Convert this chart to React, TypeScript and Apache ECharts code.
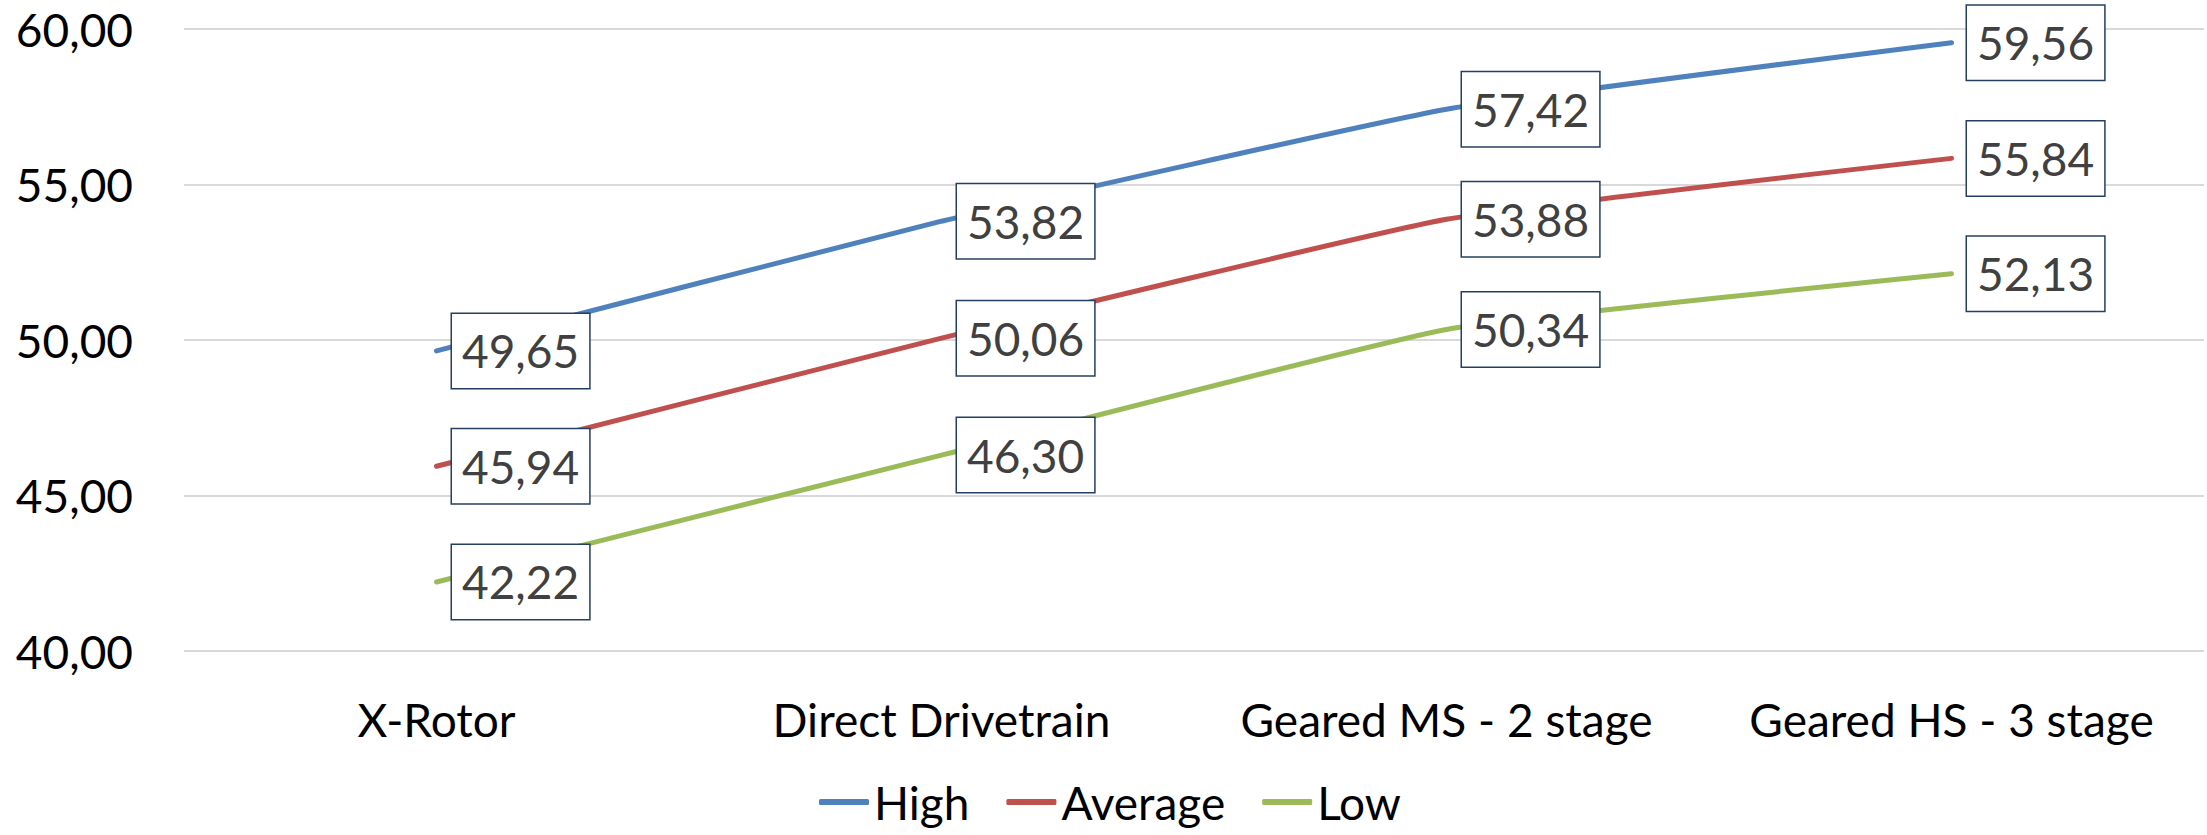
import React, { useEffect, useRef } from "react";
import * as echarts from "echarts";

// Drivetrain concepts on the category axis
const categories = ["X-Rotor", "Direct Drivetrain", "Geared MS - 2 stage", "Geared HS - 3 stage"];

// Scenario values per drivetrain concept
const highValues = [49.65, 53.82, 57.42, 59.56];
const averageValues = [45.94, 50.06, 53.88, 55.84];
const lowValues = [42.22, 46.3, 50.34, 52.13];

const seriesNames = ["High", "Average", "Low"];
const seriesColors = ["#4f81bd", "#c0504d", "#9bbb59"];

// Value axis range
const yMin = 40;
const yMax = 60;
const yStep = 5;

const FONT = "Lato, 'Noto Sans', sans-serif";

// Decimal comma with two decimals, e.g. 49,65
const fmt = (v: number) => v.toFixed(2).replace(".", ",");

export default function App() {
  const ref = useRef<HTMLDivElement>(null);

  useEffect(() => {
    if (!ref.current) return;
    const chart = echarts.init(ref.current, undefined, { renderer: "svg" });

    const allValues = [highValues, averageValues, lowValues];

    chart.setOption({
      animation: false,
      backgroundColor: "#ffffff",
      grid: { left: 184, right: 3, top: 29, bottom: 184, containLabel: false },
      legend: {
        data: seriesNames,
        left: 814,
        top: 772,
        icon: "roundRect",
        itemWidth: 50,
        itemHeight: 6,
        itemGap: 37,
        textStyle: { fontFamily: FONT, fontSize: 46, color: "#000000", lineHeight: 50 },
      },
      xAxis: {
        type: "category",
        data: categories,
        boundaryGap: true,
        axisLine: { show: false },
        axisTick: { show: false },
        axisLabel: {
          fontFamily: FONT,
          fontSize: 46,
          color: "#000000",
          margin: 45,
          interval: 0,
        },
      },
      yAxis: {
        type: "value",
        min: yMin,
        max: yMax,
        interval: yStep,
        axisLine: { show: false },
        axisTick: { show: false },
        axisLabel: {
          fontFamily: FONT,
          fontSize: 46,
          color: "#000000",
          margin: 51,
          formatter: (v: number) => fmt(v),
        },
        splitLine: { lineStyle: { color: "#d9d9d9", width: 2 } },
      },
      series: seriesNames.map((name, i) => ({
        name,
        type: "line",
        data: allValues[i],
        smooth: 0.12,
        symbol: "circle",
        symbolSize: 1,
        itemStyle: { color: seriesColors[i] },
        lineStyle: { color: seriesColors[i], width: 5, cap: "round" },
        label: {
          show: true,
          position: "right",
          distance: 15,
          formatter: (p: any) => fmt(p.value),
          fontFamily: FONT,
          fontSize: 46,
          color: "#404040",
          backgroundColor: "#ffffff",
          borderColor: "#243f60",
          borderWidth: 1.5,
          padding: [10, 10, 10, 10],
          lineHeight: 54,
        },
        emphasis: { disabled: true },
      })),
    });

    return () => chart.dispose();
  }, []);

  return (
    <div
      ref={ref}
      style={{ position: "fixed", left: 0, top: 0, width: 2207, height: 835, background: "#fff" }}
    />
  );
}
